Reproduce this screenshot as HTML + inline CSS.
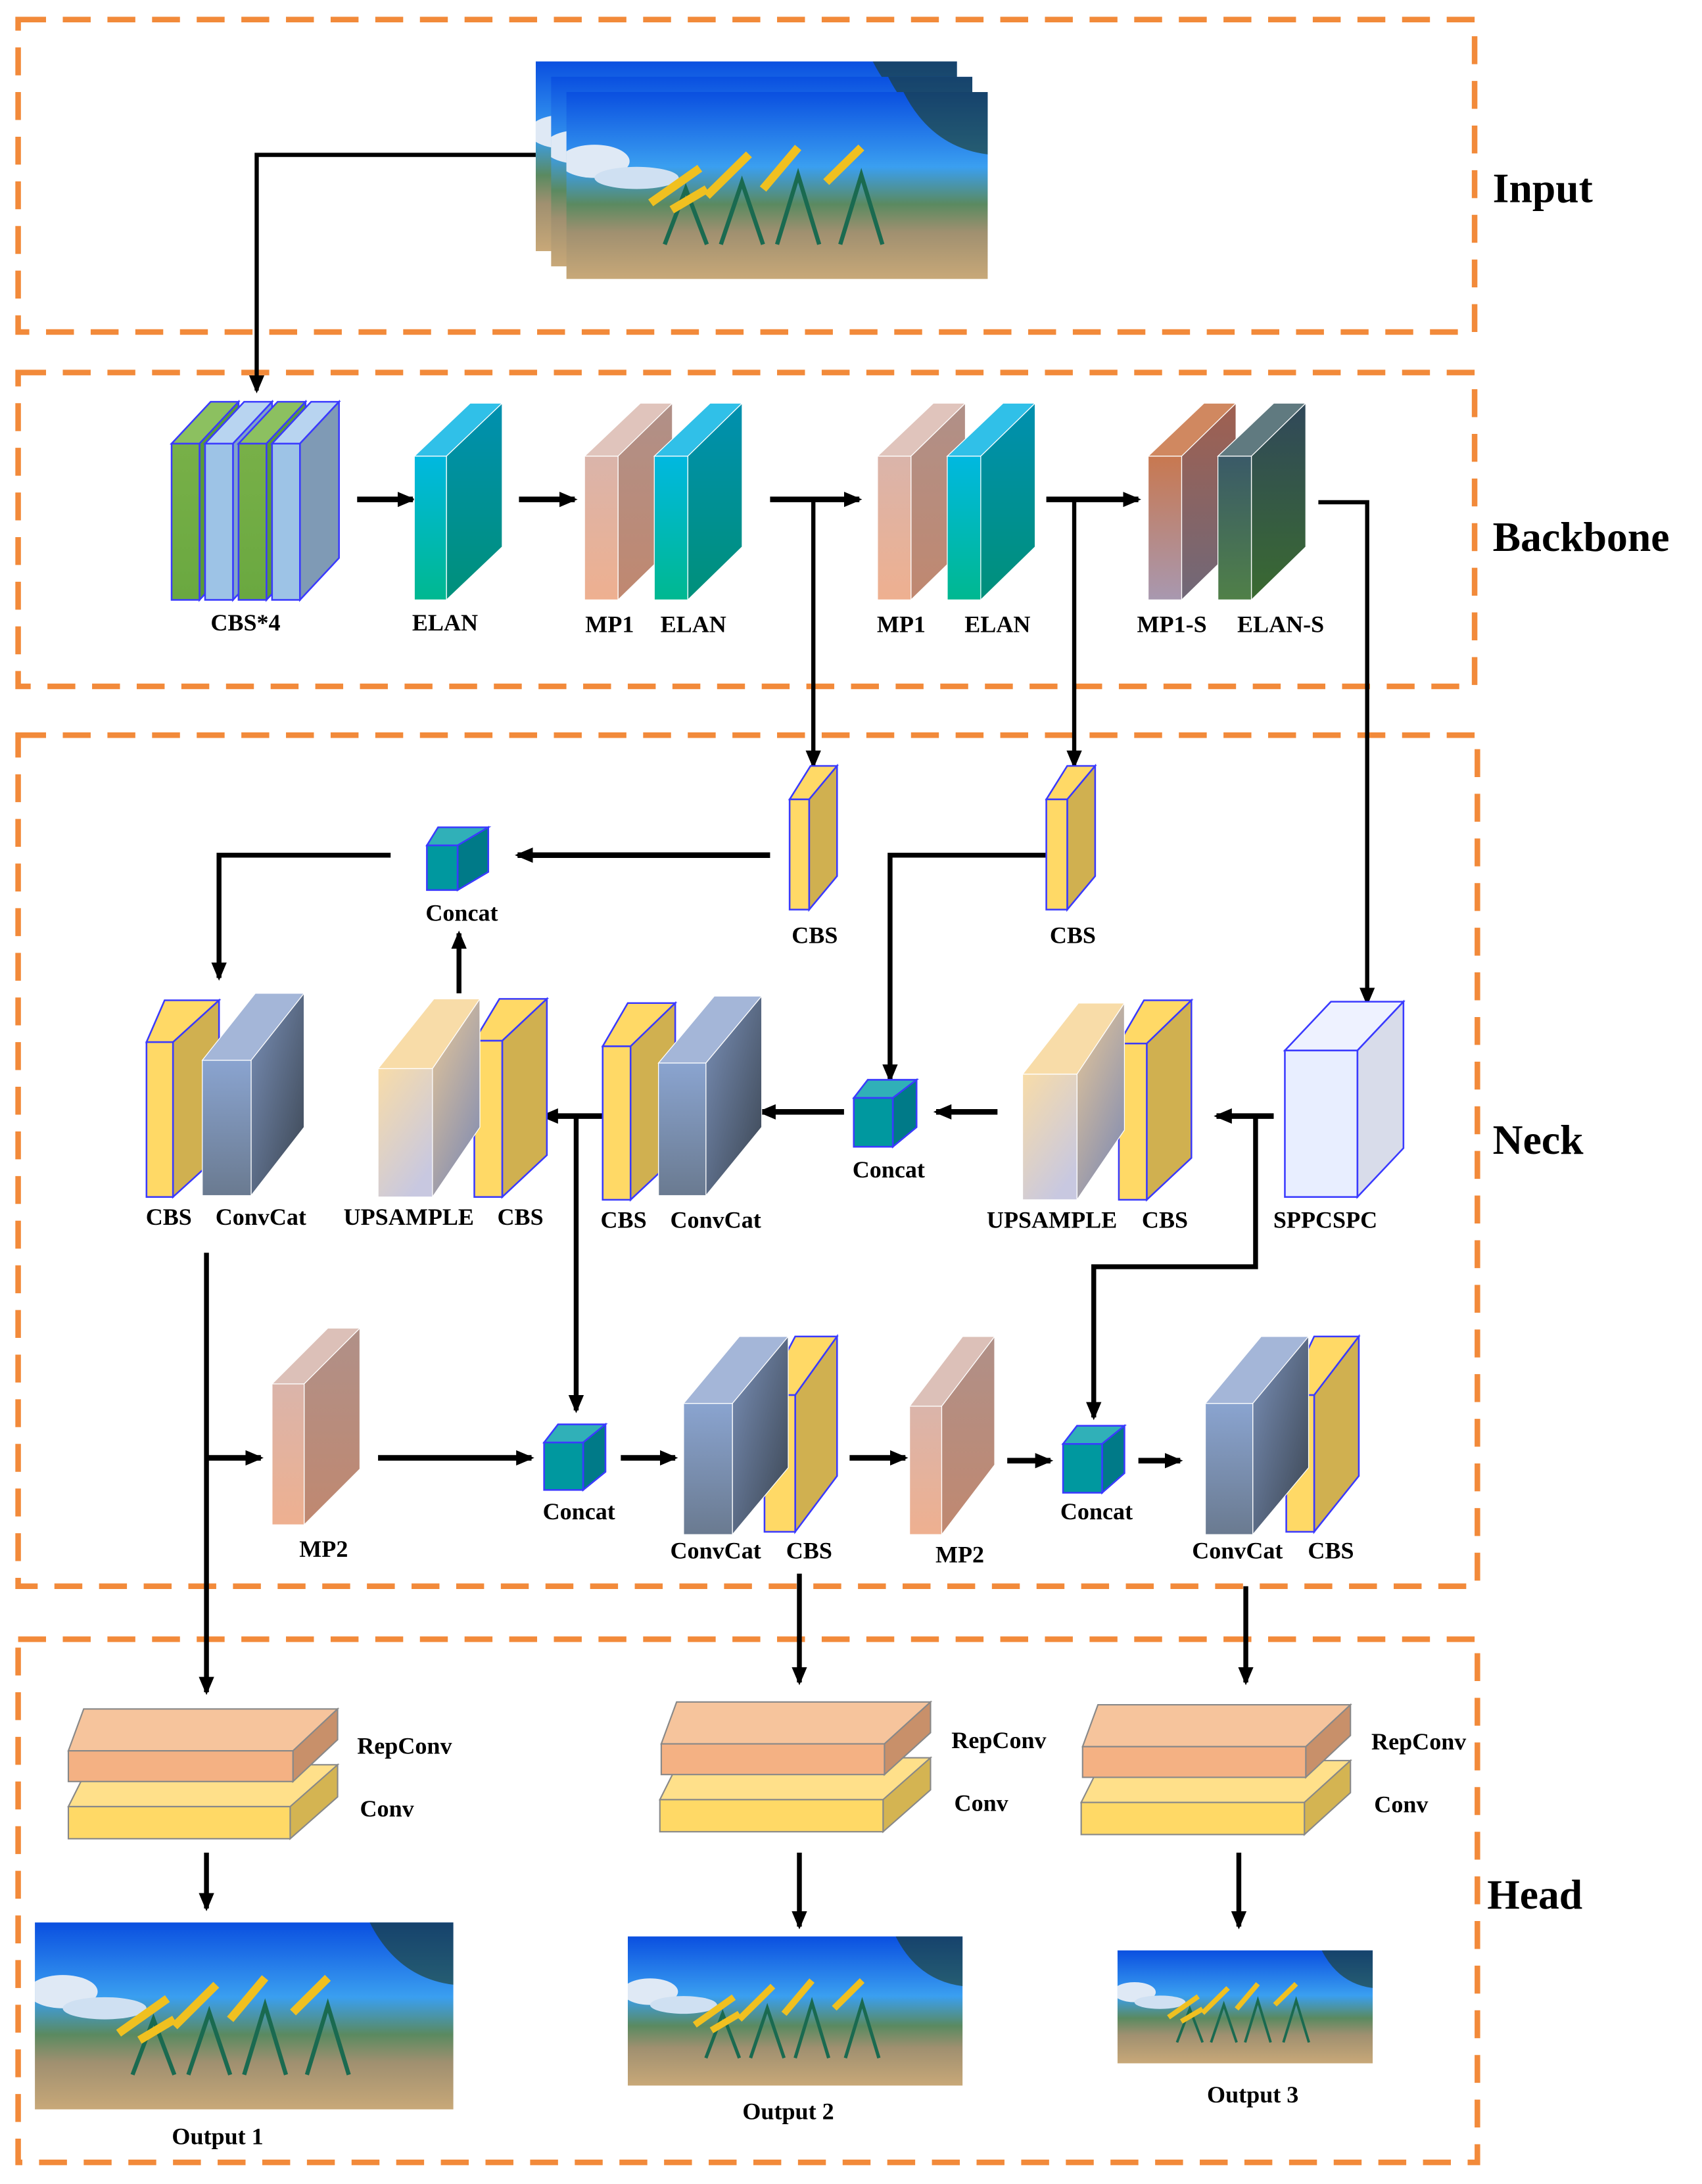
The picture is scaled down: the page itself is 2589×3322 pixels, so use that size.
<!DOCTYPE html>
<html><head><meta charset="utf-8"><style>html,body{margin:0;padding:0;background:#fff}svg{display:block}text{font-family:"Liberation Serif",serif;font-weight:bold;fill:#000}</style></head>
<body>
<svg width="2589" height="3322" viewBox="0 0 1220 1565.5" preserveAspectRatio="none" xmlns="http://www.w3.org/2000/svg">
<defs>
<marker id="ah" markerWidth="13" markerHeight="12" refX="11" refY="6" orient="auto" markerUnits="userSpaceOnUse"><path d="M0,0.5 L13,6 L0,11.5 z" fill="#000"/></marker>
<linearGradient id="sky" x1="0" y1="0" x2="0" y2="1"><stop offset="0" stop-color="#0a4fe0"/><stop offset="0.4" stop-color="#3a9ff0"/><stop offset="0.6" stop-color="#5a8a60"/><stop offset="0.75" stop-color="#a09070"/><stop offset="1" stop-color="#c8a878"/></linearGradient>
<symbol id="img" viewBox="0 0 300 135" preserveAspectRatio="none">
<rect width="300" height="135" fill="url(#sky)"/>
<ellipse cx="20" cy="50" rx="25" ry="12" fill="#dfe9f5"/>
<ellipse cx="50" cy="62" rx="30" ry="8" fill="#cfe0f2"/>
<g stroke="#1a6a50" stroke-width="3" fill="none"><path d="M70,110 L85,70 L100,110"/><path d="M110,110 L125,65 L140,110"/><path d="M150,110 L165,60 L180,110"/><path d="M195,110 L210,60 L225,110"/></g>
<g stroke="#f0c020" stroke-width="6" fill="none">
<path d="M60,80 L95,55"/><path d="M100,75 L130,45"/><path d="M140,70 L165,40"/><path d="M185,65 L210,40"/><path d="M75,85 L100,70"/>
</g>
<path d="M240,0 Q260,40 300,45 L300,0z" fill="#1e3a20" opacity="0.6"/>
</symbol>
<linearGradient id="green" x1="0" y1="0" x2="0" y2="1"><stop offset="0" stop-color="#78b048"/><stop offset="1" stop-color="#6aa840"/></linearGradient>
<linearGradient id="cyan" x1="0" y1="0" x2="0" y2="1"><stop offset="0" stop-color="#00b8e0"/><stop offset="1" stop-color="#00b890"/></linearGradient>
<linearGradient id="cyanS" x1="0" y1="0" x2="0" y2="1"><stop offset="0" stop-color="#0090b0"/><stop offset="1" stop-color="#00907a"/></linearGradient>
<linearGradient id="pink" x1="0" y1="0" x2="0" y2="1"><stop offset="0" stop-color="#dab4aa"/><stop offset="1" stop-color="#eeb090"/></linearGradient>
<linearGradient id="pinkS" x1="0" y1="0" x2="0" y2="1"><stop offset="0" stop-color="#b09088"/><stop offset="1" stop-color="#c08870"/></linearGradient>
<linearGradient id="mps" x1="0" y1="0" x2="0" y2="1"><stop offset="0" stop-color="#c87850"/><stop offset="1" stop-color="#a898b0"/></linearGradient>
<linearGradient id="mpsS" x1="0" y1="0" x2="0" y2="1"><stop offset="0" stop-color="#a06050"/><stop offset="1" stop-color="#706878"/></linearGradient>
<linearGradient id="els" x1="0" y1="0" x2="0" y2="1"><stop offset="0" stop-color="#3a5a68"/><stop offset="1" stop-color="#508048"/></linearGradient>
<linearGradient id="elsS" x1="0" y1="0" x2="0" y2="1"><stop offset="0" stop-color="#30485a"/><stop offset="1" stop-color="#3a6a30"/></linearGradient>
<linearGradient id="cc" x1="0" y1="0" x2="0" y2="1"><stop offset="0" stop-color="#8aa4d0"/><stop offset="1" stop-color="#6a7a90"/></linearGradient>
<linearGradient id="ccS" x1="0" y1="0" x2="1" y2="1"><stop offset="0" stop-color="#7a90b8"/><stop offset="1" stop-color="#3a4450"/></linearGradient>
<linearGradient id="up" x1="0" y1="0" x2="0.6" y2="1"><stop offset="0" stop-color="#f8dca8"/><stop offset="1" stop-color="#c8c8e0"/></linearGradient>
<linearGradient id="upS" x1="0" y1="0" x2="0.6" y2="1"><stop offset="0" stop-color="#e8c898"/><stop offset="1" stop-color="#8890b0"/></linearGradient>
</defs>

<g fill="none" stroke="#f28a3a" stroke-width="4" stroke-dasharray="20,12">
<rect x="13" y="14" width="1044" height="224"/>
<rect x="13" y="267" width="1044" height="225"/>
<rect x="13" y="527" width="1046" height="610"/>
<rect x="13" y="1175" width="1046" height="375"/>
</g>
<text x="1070" y="145" font-size="30">Input</text>
<text x="1070" y="395" font-size="30">Backbone</text>
<text x="1070" y="827" font-size="30">Neck</text>
<text x="1066" y="1368" font-size="30">Head</text>

<use href="#img" x="384" y="44" width="302" height="136"/>
<use href="#img" x="395" y="55" width="302" height="136"/>
<use href="#img" x="406" y="66" width="302" height="134"/>

<g stroke="#000" stroke-width="4" fill="none">
<path d="M384,111 H184 V280" stroke-width="3" marker-end="url(#ah)"/>
<path d="M256,358 H296" marker-end="url(#ah)"/>
<path d="M372,358 H412" marker-end="url(#ah)"/>
<path d="M552,358 H616" marker-end="url(#ah)"/>
<path d="M583,358 V549" stroke-width="3" marker-end="url(#ah)"/>
<path d="M750,358 H816" marker-end="url(#ah)"/>
<path d="M770,358 V549" stroke-width="3" marker-end="url(#ah)"/>
<path d="M945,360 H980 V719" stroke-width="3" marker-end="url(#ah)"/>
<path d="M552,613 H371" marker-end="url(#ah)"/>
<path d="M280,613 H157 V701" stroke-width="3.5" marker-end="url(#ah)"/>
<path d="M329,712 V669" stroke-width="3.5" marker-end="url(#ah)"/>
<path d="M750,613 H638 V774" stroke-width="3.5" marker-end="url(#ah)"/>
<path d="M432,800 H389" marker-end="url(#ah)"/>
<path d="M413,800 V1011" stroke-width="3.5" marker-end="url(#ah)"/>
<path d="M605,797 H545" marker-end="url(#ah)"/>
<path d="M715,797 H671" marker-end="url(#ah)"/>
<path d="M913,800 H872" marker-end="url(#ah)"/>
<path d="M900,800 V908 H784 V1016" stroke-width="3.5" marker-end="url(#ah)"/>
<path d="M148,898 V1213" stroke-width="3.5" marker-end="url(#ah)"/>
<path d="M148,1045 H187" marker-end="url(#ah)"/>
<path d="M271,1045 H381" marker-end="url(#ah)"/>
<path d="M445,1045 H484" marker-end="url(#ah)"/>
<path d="M609,1045 H649" marker-end="url(#ah)"/>
<path d="M722,1047 H753" marker-end="url(#ah)"/>
<path d="M816,1047 H846" marker-end="url(#ah)"/>
<path d="M573,1128 V1206" stroke-width="3.5" marker-end="url(#ah)"/>
<path d="M893,1137 V1206" stroke-width="3.5" marker-end="url(#ah)"/>
<path d="M148,1328 V1368" stroke-width="3.5" marker-end="url(#ah)"/>
<path d="M573,1328 V1381" stroke-width="3.5" marker-end="url(#ah)"/>
<path d="M888,1328 V1381" stroke-width="3.5" marker-end="url(#ah)"/>
</g>

<g stroke="#3a3aff" stroke-width="1.2">
<polygon points="123,318 151,288 171,288 143,318" fill="#8cc060"/><polygon points="143,318 171,288 171,400 143,430" fill="#5a9a38"/><rect x="123" y="318" width="20" height="112" fill="url(#green)"/>
<polygon points="147,318 175,288 195,288 167,318" fill="#b8d4f0"/><polygon points="167,318 195,288 195,400 167,430" fill="#80a4c8"/><rect x="147" y="318" width="20" height="112" fill="#9dc3e6"/>
<polygon points="171,318 199,288 219,288 191,318" fill="#8cc060"/><polygon points="191,318 219,288 219,400 191,430" fill="#5a9a38"/><rect x="171" y="318" width="20" height="112" fill="url(#green)"/>
<polygon points="195,318 223,288 243,288 215,318" fill="#b8d4f0"/><polygon points="215,318 243,288 243,400 215,430" fill="#7f9ab5"/><rect x="195" y="318" width="20" height="112" fill="#9dc3e6"/>
</g>
<g stroke="#fff" stroke-width="0.6">
<polygon points="297,327 337,289 360,289 320,327" fill="#30c0e8"/><polygon points="320,327 360,289 360,392 320,430" fill="url(#cyanS)"/><rect x="297" y="327" width="23" height="103" fill="url(#cyan)"/>
<polygon points="419,327 459,289 482,289 443,327" fill="#e0c4bc"/><polygon points="443,327 482,289 482,392 443,430" fill="url(#pinkS)"/><rect x="419" y="327" width="24" height="103" fill="url(#pink)"/>
<polygon points="469,327 509,289 532,289 493,327" fill="#30c0e8"/><polygon points="493,327 532,289 532,392 493,430" fill="url(#cyanS)"/><rect x="469" y="327" width="24" height="103" fill="url(#cyan)"/>
<polygon points="629,327 669,289 692,289 653,327" fill="#e0c4bc"/><polygon points="653,327 692,289 692,392 653,430" fill="url(#pinkS)"/><rect x="629" y="327" width="24" height="103" fill="url(#pink)"/>
<polygon points="679,327 719,289 742,289 703,327" fill="#30c0e8"/><polygon points="703,327 742,289 742,392 703,430" fill="url(#cyanS)"/><rect x="679" y="327" width="24" height="103" fill="url(#cyan)"/>
<polygon points="823,327 863,289 886,289 847,327" fill="#d08860"/><polygon points="847,327 886,289 886,392 847,430" fill="url(#mpsS)"/><rect x="823" y="327" width="24" height="103" fill="url(#mps)"/>
<polygon points="873,327 913,289 936,289 897,327" fill="#607a80"/><polygon points="897,327 936,289 936,392 897,430" fill="url(#elsS)"/><rect x="873" y="327" width="24" height="103" fill="url(#els)"/>
</g>
<g font-size="17" text-anchor="middle">
<text x="176" y="452">CBS*4</text><text x="319" y="452">ELAN</text><text x="437" y="453">MP1</text><text x="497" y="453">ELAN</text>
<text x="646" y="453">MP1</text><text x="715" y="453">ELAN</text><text x="840" y="453">MP1-S</text><text x="918" y="453">ELAN-S</text>
</g>

<g stroke="#3a3aff" stroke-width="1.2">
<polygon points="566,573 581,549 600,549 580,573" fill="#ffd966"/><polygon points="580,573 600,549 600,628 580,652" fill="#d0b050"/><rect x="566" y="573" width="14" height="79" fill="#ffd966"/>
<polygon points="750,573 765,549 785,549 765,573" fill="#ffd966"/><polygon points="765,573 785,549 785,628 765,652" fill="#d0b050"/><rect x="750" y="573" width="15" height="79" fill="#ffd966"/>
<polygon points="306,606 314,593 350,593 328,606" fill="#30b0b8"/><polygon points="328,606 350,593 350,625 328,638" fill="#007a88"/><rect x="306" y="606" width="22" height="32" fill="#00989f"/>
<polygon points="612,787 622,774 657,774 640,787" fill="#30b0b8"/><polygon points="640,787 657,774 657,808 640,822" fill="#007a88"/><rect x="612" y="787" width="28" height="35" fill="#00989f"/>
<polygon points="390,1034 400,1021 434,1021 418,1034" fill="#30b0b8"/><polygon points="418,1034 434,1021 434,1055 418,1068" fill="#007a88"/><rect x="390" y="1034" width="28" height="34" fill="#00989f"/>
<polygon points="762,1035 772,1022 806,1022 790,1035" fill="#30b0b8"/><polygon points="790,1035 806,1022 806,1056 790,1070" fill="#007a88"/><rect x="762" y="1035" width="28" height="35" fill="#00989f"/>
<polygon points="105,747 118,717 157,717 124,747" fill="#ffd966"/><polygon points="124,747 157,717 157,828 124,858" fill="#d0b050"/><rect x="105" y="747" width="19" height="111" fill="#ffd966"/>
<polygon points="340,746 358,716 392,716 360,746" fill="#ffd966"/><polygon points="360,746 392,716 392,828 360,858" fill="#d0b050"/><rect x="340" y="746" width="20" height="112" fill="#ffd966"/>
<polygon points="432,750 450,719 484,719 452,750" fill="#ffd966"/><polygon points="452,750 484,719 484,830 452,860" fill="#d0b050"/><rect x="432" y="750" width="20" height="110" fill="#ffd966"/>
<polygon points="802,748 820,717 854,717 822,748" fill="#ffd966"/><polygon points="822,748 854,717 854,830 822,860" fill="#d0b050"/><rect x="802" y="748" width="20" height="112" fill="#ffd966"/>
<polygon points="921,753 954,718 1006,718 973,753" fill="#eef2ff"/><polygon points="973,753 1006,718 1006,823 973,858" fill="#d8dcea"/><rect x="921" y="753" width="52" height="105" fill="#e8eeff"/>
<polygon points="548,1000 570,958 600,958 570,1000" fill="#ffd966"/><polygon points="570,1000 600,958 600,1058 570,1098" fill="#d0b050"/><rect x="548" y="1000" width="22" height="98" fill="#ffd966"/>
<polygon points="922,1000 942,958 974,958 942,1000" fill="#ffd966"/><polygon points="942,1000 974,958 974,1058 942,1098" fill="#d0b050"/><rect x="922" y="1000" width="20" height="98" fill="#ffd966"/>
</g>
<g stroke="#fff" stroke-width="0.6">
<polygon points="145,760 183,712 218,712 180,760" fill="#a4b6d8"/><polygon points="180,760 218,712 218,808 180,857" fill="url(#ccS)"/><rect x="145" y="760" width="35" height="97" fill="url(#cc)"/>
<polygon points="472,762 512,714 546,714 506,762" fill="#a4b6d8"/><polygon points="506,762 546,714 546,808 506,857" fill="url(#ccS)"/><rect x="472" y="762" width="34" height="95" fill="url(#cc)"/>
<polygon points="490,1006 530,958 565,958 525,1006" fill="#a4b6d8"/><polygon points="525,1006 565,958 565,1052 525,1100" fill="url(#ccS)"/><rect x="490" y="1006" width="35" height="94" fill="url(#cc)"/>
<polygon points="864,1006 904,958 938,958 898,1006" fill="#a4b6d8"/><polygon points="898,1006 938,958 938,1052 898,1100" fill="url(#ccS)"/><rect x="864" y="1006" width="34" height="94" fill="url(#cc)"/>
<polygon points="271,766 311,716 344,716 310,766" fill="#f8dca8"/><polygon points="310,766 344,716 344,808 310,858" fill="url(#upS)"/><rect x="271" y="766" width="39" height="92" fill="url(#up)"/>
<polygon points="733,770 773,719 806,719 772,770" fill="#f8dca8"/><polygon points="772,770 806,719 806,810 772,860" fill="url(#upS)"/><rect x="733" y="770" width="39" height="90" fill="url(#up)"/>
<polygon points="195,992 235,952 258,952 218,992" fill="#dcc0b8"/><polygon points="218,992 258,952 258,1053 218,1093" fill="url(#pinkS)"/><rect x="195" y="992" width="23" height="101" fill="url(#pink)"/>
<polygon points="652,1008 690,958 713,958 675,1008" fill="#dcc0b8"/><polygon points="675,1008 713,958 713,1050 675,1100" fill="url(#pinkS)"/><rect x="652" y="1008" width="23" height="92" fill="url(#pink)"/>
</g>
<g font-size="17" text-anchor="middle">
<text x="331" y="660">Concat</text><text x="584" y="676">CBS</text><text x="769" y="676">CBS</text>
<text x="121" y="878">CBS</text><text x="187" y="878">ConvCat</text><text x="293" y="878">UPSAMPLE</text><text x="373" y="878">CBS</text>
<text x="447" y="880">CBS</text><text x="513" y="880">ConvCat</text><text x="637" y="844">Concat</text>
<text x="754" y="880">UPSAMPLE</text><text x="835" y="880">CBS</text><text x="950" y="880">SPPCSPC</text>
<text x="232" y="1116">MP2</text><text x="415" y="1089">Concat</text><text x="513" y="1117">ConvCat</text><text x="580" y="1117">CBS</text>
<text x="688" y="1120">MP2</text><text x="786" y="1089">Concat</text><text x="887" y="1117">ConvCat</text><text x="954" y="1117">CBS</text>
</g>

<g stroke="#888" stroke-width="1">
<polygon points="49,1295 64,1265 242,1265 208,1295" fill="#ffe08a"/><polygon points="208,1295 242,1265 242,1288 208,1318" fill="#d4b452"/><rect x="49" y="1295" width="159" height="23" fill="#ffd966"/>
<polygon points="49,1255 60,1225 242,1225 210,1255" fill="#f6c49c"/><polygon points="210,1255 242,1225 242,1247 210,1277" fill="#c8906a"/><rect x="49" y="1255" width="161" height="22" fill="#f4b183"/>
<polygon points="473,1290 488,1260 667,1260 633,1290" fill="#ffe08a"/><polygon points="633,1290 667,1260 667,1283 633,1313" fill="#d4b452"/><rect x="473" y="1290" width="160" height="23" fill="#ffd966"/>
<polygon points="474,1250 485,1220 667,1220 634,1250" fill="#f6c49c"/><polygon points="634,1250 667,1220 667,1242 634,1272" fill="#c8906a"/><rect x="474" y="1250" width="160" height="22" fill="#f4b183"/>
<polygon points="775,1292 790,1262 968,1262 935,1292" fill="#ffe08a"/><polygon points="935,1292 968,1262 968,1285 935,1315" fill="#d4b452"/><rect x="775" y="1292" width="160" height="23" fill="#ffd966"/>
<polygon points="776,1252 787,1222 968,1222 936,1252" fill="#f6c49c"/><polygon points="936,1252 968,1222 968,1244 936,1274" fill="#c8906a"/><rect x="776" y="1252" width="160" height="22" fill="#f4b183"/>
</g>
<g font-size="17">
<text x="256" y="1257">RepConv</text><text x="258" y="1302">Conv</text>
<text x="682" y="1253">RepConv</text><text x="684" y="1298">Conv</text>
<text x="983" y="1254">RepConv</text><text x="985" y="1299">Conv</text>
</g>
<use href="#img" x="25" y="1378" width="300" height="134"/>
<use href="#img" x="450" y="1388" width="240" height="107"/>
<use href="#img" x="801" y="1398" width="183" height="81"/>
<g font-size="17" text-anchor="middle">
<text x="156" y="1537">Output 1</text><text x="565" y="1519">Output 2</text><text x="898" y="1507">Output 3</text>
</g>
</svg>
</body></html>
